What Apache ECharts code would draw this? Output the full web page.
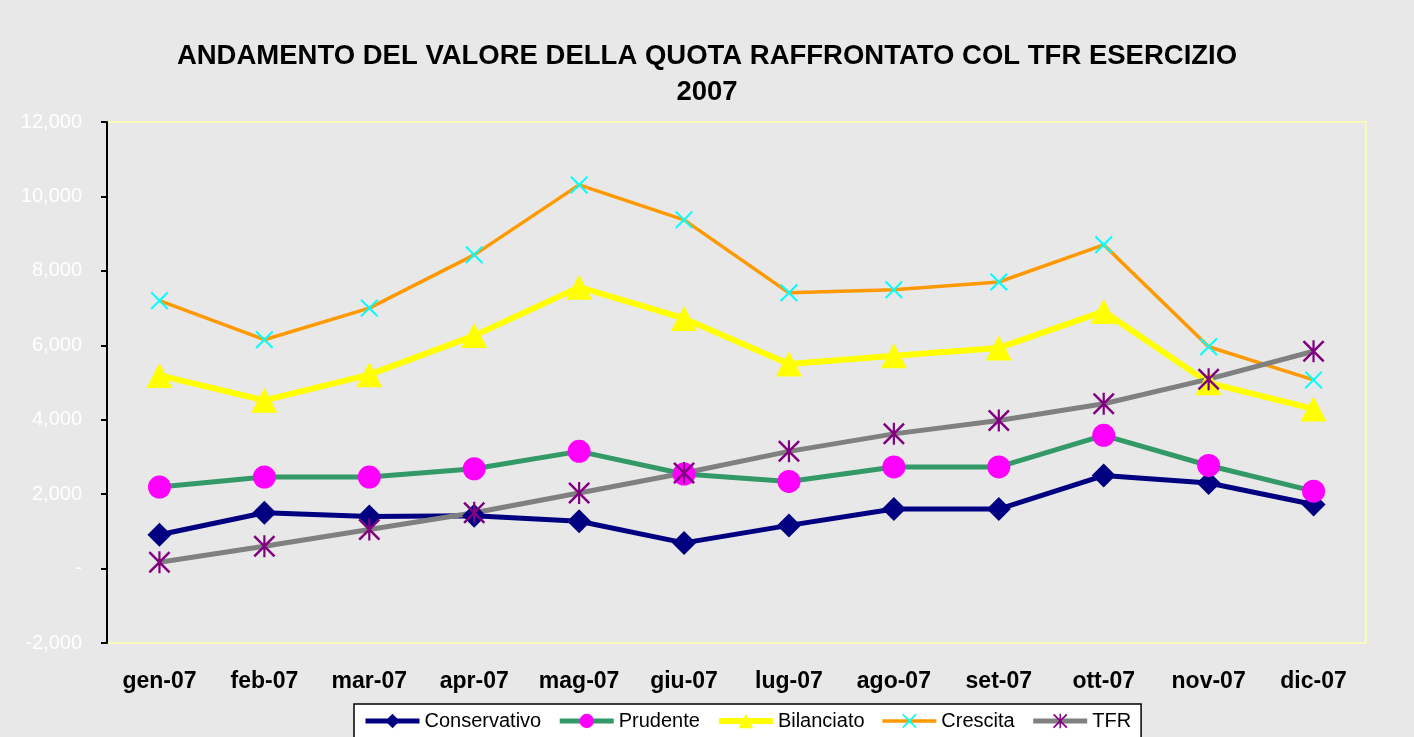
<!DOCTYPE html>
<html>
<head>
<meta charset="utf-8">
<script src="https://cdn.jsdelivr.net/npm/echarts@6/dist/echarts.min.js"></script>
<style>
  html, body { margin: 0; padding: 0; background: #e8e8e8; }
  #chart { width: 1414px; height: 737px; }
</style>
</head>
<body>
<div id="chart"></div>
<script>
// mesi dell'esercizio 2007
const months = ['gen-07', 'feb-07', 'mar-07', 'apr-07', 'mag-07', 'giu-07',
                'lug-07', 'ago-07', 'set-07', 'ott-07', 'nov-07', 'dic-07'];

// valori
const conservativo = [910, 1500, 1400, 1420, 1270, 690, 1160, 1600, 1600, 2500, 2300, 1720];
const prudente     = [2190, 2460, 2460, 2680, 3150, 2540, 2340, 2730, 2730, 3580, 2770, 2080];
const bilanciato   = [5190, 4520, 5210, 6260, 7560, 6720, 5500, 5720, 5930, 6910, 4990, 4290];
const crescita     = [7200, 6150, 7000, 8430, 10310, 9370, 7410, 7490, 7700, 8700, 5960, 5070];
const tfr          = [170, 600, 1050, 1500, 2030, 2570, 3150, 3620, 3980, 4430, 5090, 5840];

const yTicks = { min: -2000, max: 12000, interval: 2000 };

// marker a X e ad asterisco (come Excel)
const xMark = 'path://M0,0.8 L0.8,0 L5,4.2 L9.2,0 L10,0.8 L5.8,5 L10,9.2 L9.2,10 L5,5.8 L0.8,10 L0,9.2 L4.2,5 Z';
const starMark = xMark + ' M4.5,0 L5.5,0 L5.5,10 L4.5,10 Z';

const FONT = '"Liberation Sans", Arial, sans-serif';

const chart = echarts.init(document.getElementById('chart'));

function lineSeries(name, data, lineColor, width, symbol, size, markColor) {
  return {
    name: name,
    type: 'line',
    data: data,
    symbol: symbol,
    symbolSize: size,
    showAllSymbol: true,
    lineStyle: { color: lineColor, width: width },
    itemStyle: { color: markColor },
    emphasis: { disabled: true }
  };
}

const series = [
  lineSeries('Conservativo', conservativo, '#000080', 5, 'diamond', 24, '#000080'),
  lineSeries('Prudente', prudente, '#339966', 5, 'circle', 23, '#ff00ff'),
  lineSeries('Bilanciato', bilanciato, '#ffff00', 6, 'triangle', [26, 25], '#ffff00'),
  lineSeries('Crescita', crescita, '#ff9900', 3.5, xMark, 18, '#00ffff'),
  lineSeries('TFR', tfr, '#808080', 5, starMark, 22, '#800080')
];

const option = {
  animation: false,
  backgroundColor: '#e8e8e8',
  title: {
    text: 'ANDAMENTO DEL VALORE DELLA QUOTA RAFFRONTATO COL TFR ESERCIZIO\n2007',
    left: 'center',
    top: 33,
    textStyle: {
      fontFamily: FONT, fontSize: 27.5, fontWeight: 'bold', color: '#000', lineHeight: 36
    }
  },
  legend: {
    left: 354,
    top: 704,
    padding: [7, 10, 10, 9],
    backgroundColor: '#ffffff',
    borderColor: '#000',
    borderWidth: 1.5,
    borderRadius: 0,
    itemWidth: 54,
    itemHeight: 18,
    itemGap: 16,
    textStyle: { fontFamily: FONT, fontSize: 20, color: '#000' },
    data: series.map(s => ({
      name: s.name,
      lineStyle: { width: Math.max(3, s.lineStyle.width) }
    }))
  },
  grid: {
    left: 107, right: 48, top: 122, bottom: 94,
    show: true,
    borderColor: '#ffffaa',
    borderWidth: 1.5,
    backgroundColor: 'transparent'
  },
  xAxis: {
    type: 'category',
    data: months,
    boundaryGap: true,
    axisLine: { show: false },
    axisTick: { show: false },
    axisLabel: {
      margin: 27,
      fontFamily: FONT, fontSize: 23, fontWeight: 'bold', color: '#000'
    }
  },
  yAxis: {
    type: 'value',
    min: yTicks.min,
    max: yTicks.max,
    interval: yTicks.interval,
    splitLine: { show: false },
    axisLine: { show: true, lineStyle: { color: '#000', width: 2 } },
    axisTick: { show: true, length: 6, lineStyle: { color: '#000', width: 2 } },
    axisLabel: {
      margin: 25,
      fontFamily: FONT, fontSize: 20, color: '#ffffff',
      formatter: v => v === 0 ? '-' : v.toLocaleString('en-US')
    }
  },
  series: series
};

chart.setOption(option);
</script>
</body>
</html>
